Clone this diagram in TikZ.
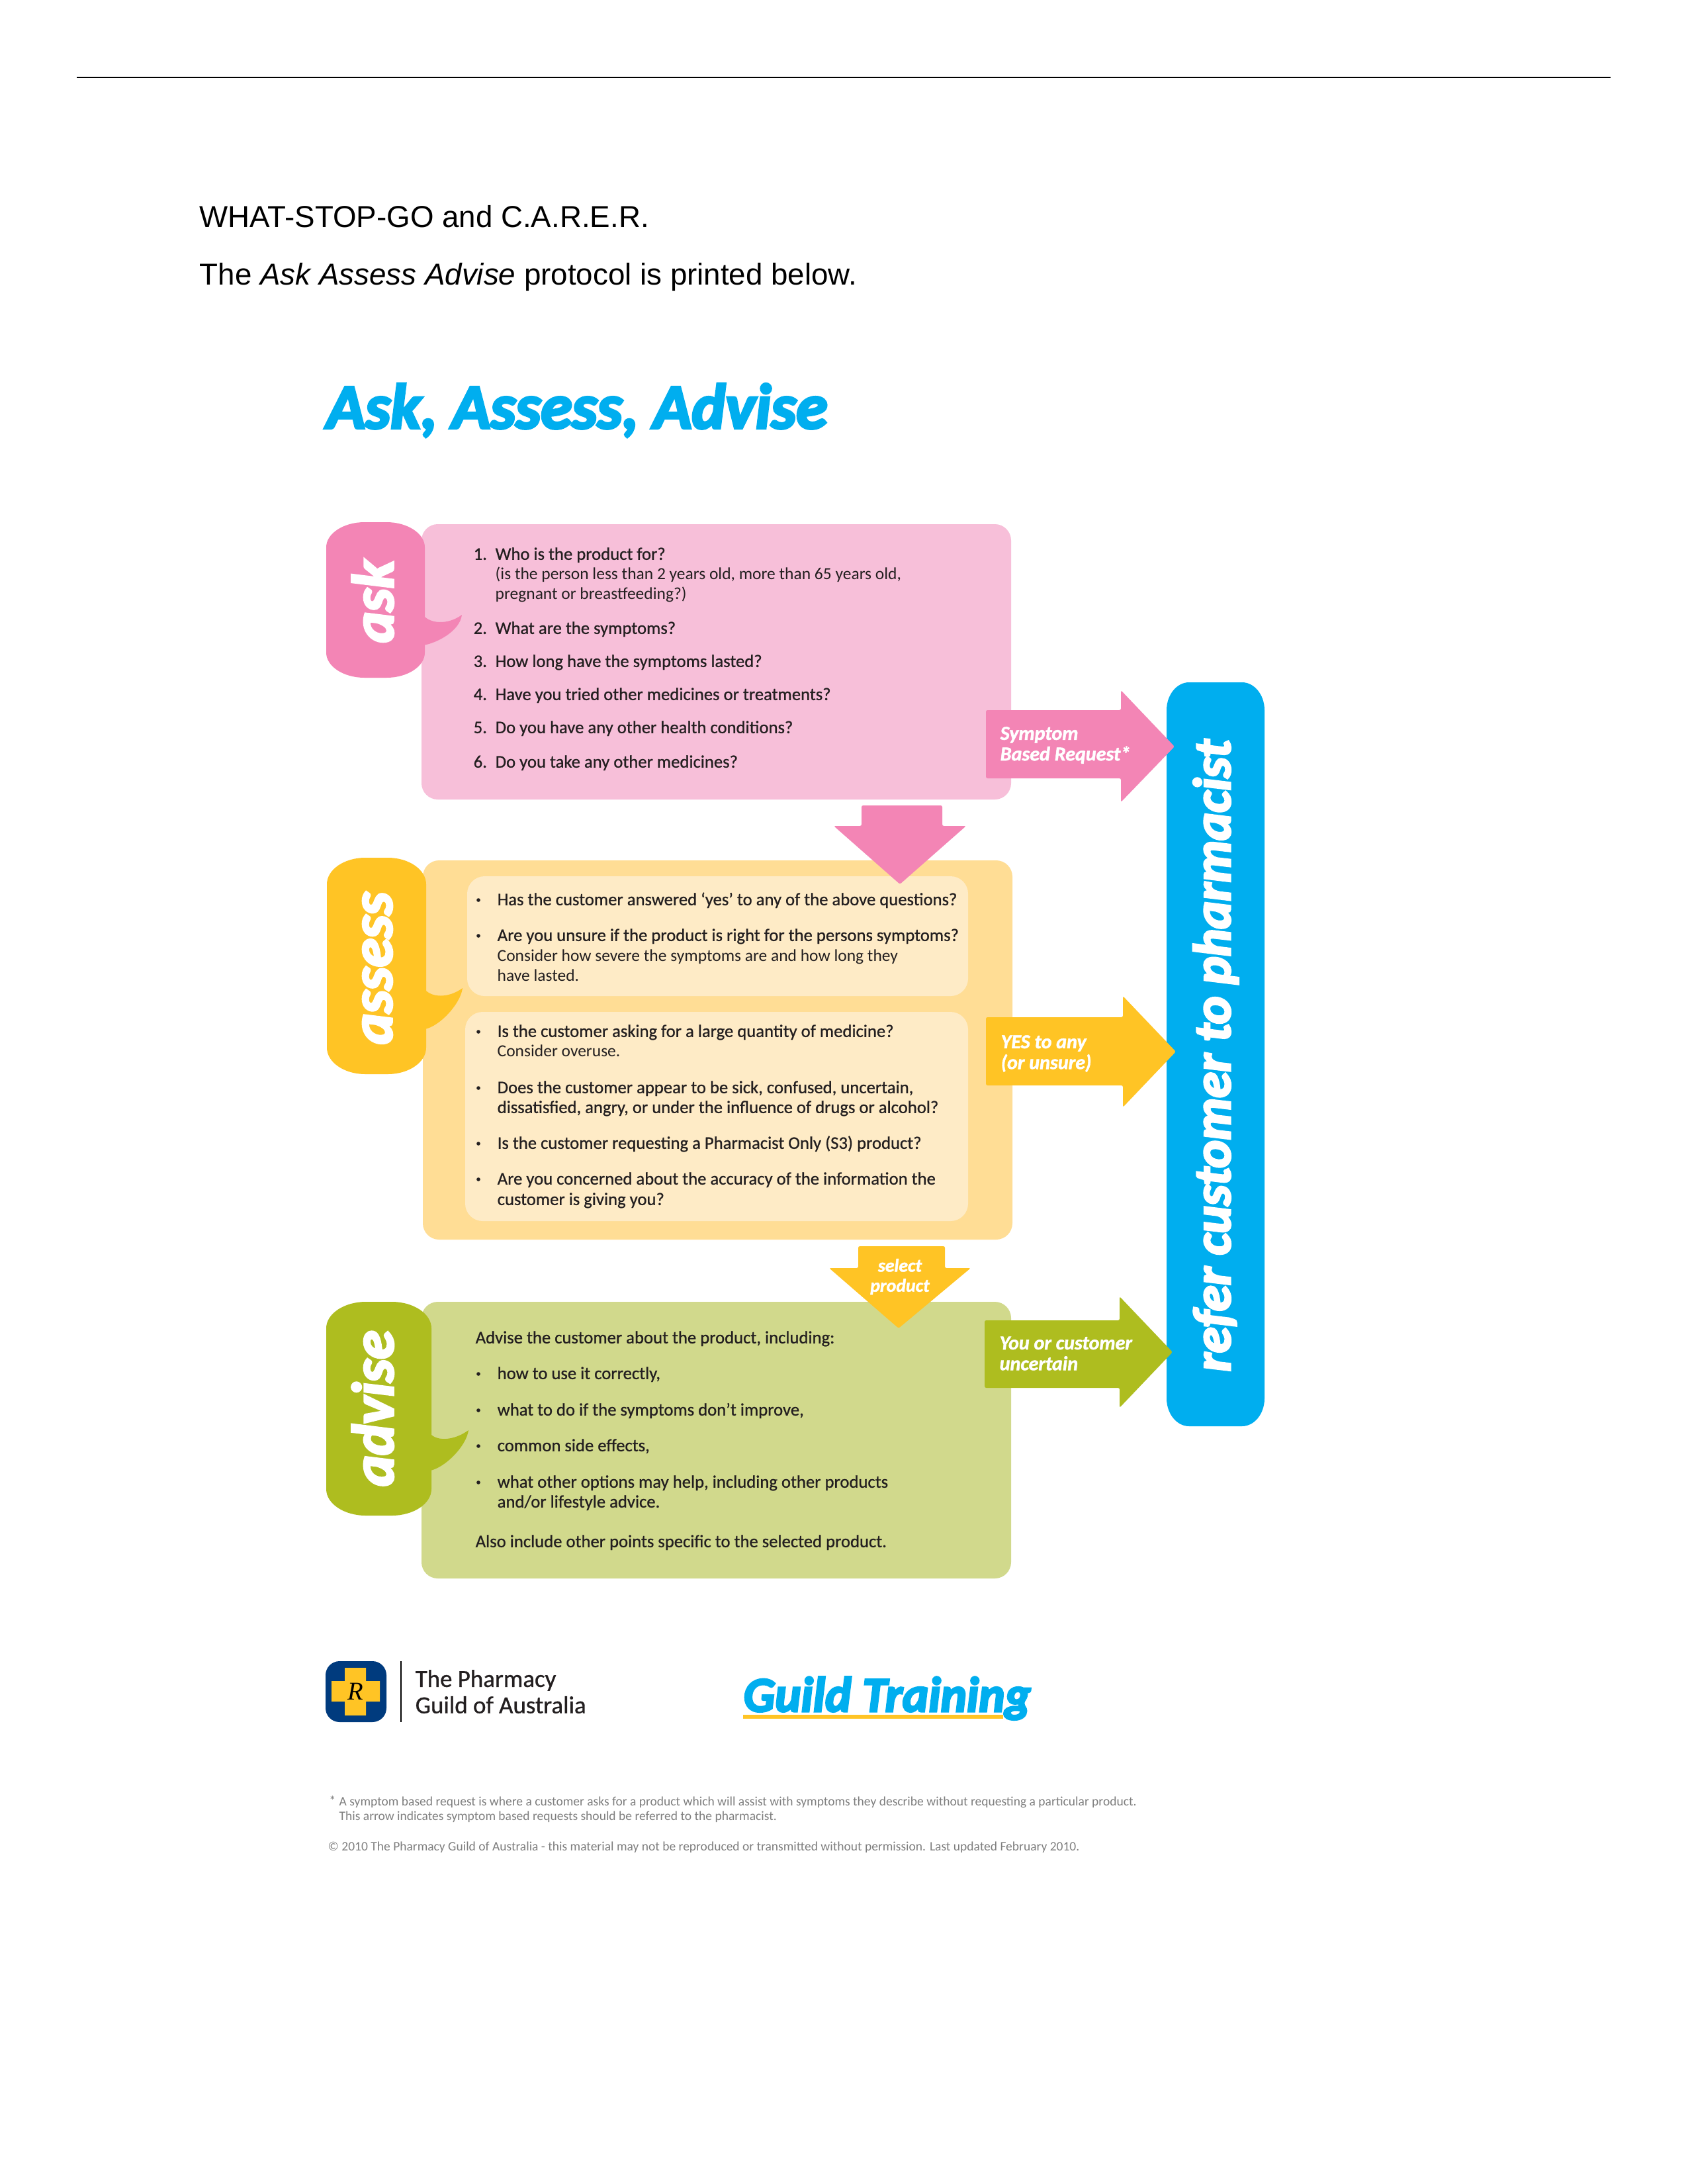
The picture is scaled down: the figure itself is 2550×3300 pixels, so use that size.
\documentclass[tikz,border=0pt]{standalone}
\usepackage{fontspec}
\setmainfont{Liberation Sans}
\newfontfamily\semif[FakeBold=0.8]{Carlito}
\newfontfamily\plainf{Carlito}
\newfontfamily\heavyf[BoldItalicFeatures={FakeBold=1.6}]{Carlito}
\newfontfamily\blackf[BoldItalicFeatures={FakeBold=4}]{Carlito}
\newfontfamily\romanf{Liberation Serif}
\definecolor{pinkD}{HTML}{F385B5}
\definecolor{pinkL}{HTML}{F7BFD9}
\definecolor{amberD}{HTML}{FFC425}
\definecolor{amberL}{HTML}{FFDD95}
\definecolor{amberP}{HTML}{FEEBC6}
\definecolor{greenD}{HTML}{AEBD1F}
\definecolor{greenL}{HTML}{D1D98C}
\definecolor{skyB}{HTML}{00AEEF}
\definecolor{navyB}{HTML}{003B7E}
\definecolor{noteG}{HTML}{7F7F7F}
\definecolor{inkT}{HTML}{231F20}
% rounded block with elliptical corners: x0,y0,x1,y1,rx,ry
\newcommand{\blobpath}[6]{(#1+#5,#2)
  -- (#3-#5,#2) .. controls (#3-0.45*#5,#2) and (#3,#2+0.45*#6) .. (#3,#2+#6)
  -- (#3,#4-#6) .. controls (#3,#4-0.45*#6) and (#3-0.45*#5,#4) .. (#3-#5,#4)
  -- (#1+#5,#4) .. controls (#1+0.45*#5,#4) and (#1,#4-0.45*#6) .. (#1,#4-#6)
  -- (#1,#2+#6) .. controls (#1,#2+0.45*#6) and (#1+0.45*#5,#2) .. (#1+#5,#2) -- cycle}
% speech tail: start x, top y, tip x, tip y, bottom y
\newcommand{\tailpath}[5]{(#1,#2) .. controls (#1+10,#2+12) and (#3-22,#4+16) .. (#3,#4)
  .. controls (#3-3,#4+24) and (#1+22,#5-4) .. (#1,#5) -- cycle}
\tikzset{
  panel/.style={rounded corners=7pt},
  inset/.style={rounded corners=7.5pt},
  pointer/.style={rounded corners=0.7pt},
  strong/.style={anchor=west,inner sep=0pt,text height=6.6pt,text depth=1.6pt,text=inkT,font=\semif\fontsize{7.58pt}{9pt}\selectfont},
  light/.style={strong,font=\plainf\fontsize{7.25pt}{9pt}\selectfont},
  dot/.style={circle,fill=inkT,inner sep=0pt,minimum size=1.6pt},
  tag/.style={anchor=west,inner sep=0pt,text=white,align=left,font=\heavyf\bfseries\itshape\fontsize{8.55pt}{8.9pt}\selectfont},
  stage/.style={rotate=90,anchor=base,inner sep=0pt,text=white,font=\blackf\bfseries\itshape\fontsize{25.2pt}{30pt}\selectfont},
  note/.style={anchor=west,inner sep=0pt,text=noteG,font=\plainf\fontsize{5.55pt}{7pt}\selectfont},
  intro/.style={anchor=west,inner sep=0pt,text=black,font=\fontsize{13pt}{16pt}\selectfont},
}
\begin{document}
\begin{tikzpicture}[x=0.01cm,y=-0.01cm]
\useasboundingbox[fill=white] (0,0) rectangle (2550,3300);

% page header
\draw[line width=0.85pt,black] (116,117) -- (2434,117);
\node[intro] (introa) at (301,327) {WHAT-STOP-GO and C.A.R.E.R.};
\node[intro] (introb) at (301,419) {The \textit{Ask Assess Advise} protocol is printed below.};
\node[anchor=west,inner sep=0pt,text=skyB,font=\blackf\bfseries\itshape\fontsize{27.4pt}{32pt}\selectfont] (title) at (493,620) {Ask, Assess, Advise};

% panels
\fill[pinkL,panel] (637,792) rectangle (1528,1208);
\fill[amberL,panel] (639,1300) rectangle (1530,1873);
\fill[amberP,inset] (706,1324) rectangle (1463,1505);
\fill[amberP,inset] (703,1529) rectangle (1463,1845);
\fill[greenL,panel] (637,1967) rectangle (1528,2385);

% stage labels with their speech tails
\fill[pinkD] \blobpath{493}{789}{642}{1024}{58}{38};
\fill[pinkD] \tailpath{640}{930}{698}{929}{975};
\fill[amberD] \blobpath{494}{1296}{644}{1623}{58}{40};
\fill[amberD] \tailpath{642}{1495}{699}{1493}{1555};
\fill[greenD] \blobpath{493}{1967}{652}{2290}{60}{40};
\fill[greenD] \tailpath{650}{2166}{708}{2161}{2222};
\node[stage] (ask) at (594,909) {ask};
\node[stage] (assess) at (592,1463) {assess};
\node[stage] (advise) at (594,2128) {advise};

% downward arrows between the stages
\fill[pinkD,pointer] (1302,1217) -- (1424,1217) -- (1424,1248) -- (1460,1248) -- (1360,1336) -- (1260,1248) -- (1302,1248) -- cycle;
\fill[amberD,pointer] (1297,1883) -- (1428,1883) -- (1428,1916) -- (1467,1916) -- (1358,2007) -- (1253,1916) -- (1297,1916) -- cycle;
\node[anchor=center,inner sep=0pt,text=white,align=center,font=\heavyf\bfseries\itshape\fontsize{7.9pt}{8.6pt}\selectfont] (select) at (1360,1929) {select\\product};

% ask questions
\node[strong] (n1) at (715,837) {1.};
\node[strong] (q1) at (748,837) {Who is the product for?};
\node[light] (q1a) at (748,867) {(is the person less than 2 years old, more than 65 years old,};
\node[light] (q1b) at (748,897) {pregnant or breastfeeding?)};
\node[strong] (n2) at (715,949) {2.};
\node[strong] (q2) at (748,949) {What are the symptoms?};
\node[strong] (n3) at (715,999) {3.};
\node[strong] (q3) at (748,999) {How long have the symptoms lasted?};
\node[strong] (n4) at (715,1049) {4.};
\node[strong] (q4) at (748,1049) {Have you tried other medicines or treatments?};
\node[strong] (n5) at (715,1099) {5.};
\node[strong] (q5) at (748,1099) {Do you have any other health conditions?};
\node[strong] (n6) at (715,1151) {6.};
\node[strong] (q6) at (748,1151) {Do you take any other medicines?};

% assess checks
\node[dot] (d1) at (723,1360) {};
\node[strong] (a1) at (751,1359) {Has the customer answered ‘yes’ to any of the above questions?};
\node[dot] (d2) at (723,1414) {};
\node[strong] (a2) at (751,1413) {Are you unsure if the product is right for the persons symptoms?};
\node[light] (a2a) at (751,1444) {Consider how severe the symptoms are and how long they};
\node[light] (a2b) at (751,1474) {have lasted.};
\node[dot] (d3) at (723,1559) {};
\node[strong] (a3) at (751,1558) {Is the customer asking for a large quantity of medicine?};
\node[light] (a3a) at (751,1588) {Consider overuse.};
\node[dot] (d4) at (723,1644) {};
\node[strong] (a4) at (751,1643) {Does the customer appear to be sick, confused, uncertain,};
\node[strong] (a4a) at (751,1673) {dissatisfied, angry, or under the influence of drugs or alcohol?};
\node[dot] (d5) at (723,1728) {};
\node[strong] (a5) at (751,1727) {Is the customer requesting a Pharmacist Only (S3) product?};
\node[dot] (d6) at (723,1782) {};
\node[strong] (a6) at (751,1781) {Are you concerned about the accuracy of the information the};
\node[strong] (a6a) at (751,1812) {customer is giving you?};

% advice points
\node[strong] (v0) at (718,2021) {Advise the customer about the product, including:};
\node[dot] (d7) at (723,2076) {};
\node[strong] (v1) at (751,2075) {how to use it correctly,};
\node[dot] (d8) at (723,2131) {};
\node[strong] (v2) at (751,2130) {what to do if the symptoms don’t improve,};
\node[dot] (d9) at (723,2185) {};
\node[strong] (v3) at (751,2184) {common side effects,};
\node[dot] (d10) at (723,2240) {};
\node[strong] (v4) at (751,2239) {what other options may help, including other products};
\node[strong] (v4a) at (751,2269) {and/or lifestyle advice.};
\node[strong] (v5) at (718,2329) {Also include other points specific to the selected product.};

% referral bar
\fill[skyB] \blobpath{1763}{1031}{1911}{2155}{34}{42};
\node[rotate=90,anchor=base,inner sep=0pt,text=white,font=\blackf\bfseries\itshape\fontsize{22.6pt}{24pt}\selectfont] (refer) at (1859,1595) {refer customer to pharmacist};

% arrows into the referral bar
\fill[pinkD,pointer] (1490,1073) -- (1694,1073) -- (1694,1043) -- (1775,1128) -- (1694,1212) -- (1694,1176) -- (1490,1176) -- cycle;
\fill[amberD,pointer] (1490,1537) -- (1697,1537) -- (1697,1505) -- (1777,1589) -- (1697,1673) -- (1697,1640) -- (1490,1640) -- cycle;
\fill[greenD,pointer] (1488,1995) -- (1692,1995) -- (1692,1959) -- (1772,2043) -- (1692,2127) -- (1692,2097) -- (1488,2097) -- cycle;
\node[tag] (t1) at (1511,1126) {Symptom\\Based Request*};
\node[tag] (t2) at (1512,1592) {YES to any\\(or unsure)};
\node[tag] (t3) at (1510,2045) {You or customer\\uncertain};

% guild mark and wordmark
\fill[navyB,rounded corners=6pt] (492,2510) rectangle (584,2602);
\fill[amberD] (521,2520) -- (553,2520) -- (553,2540) -- (574,2540) -- (574,2571) -- (553,2571) -- (553,2592) -- (521,2592) -- (521,2571) -- (501,2571) -- (501,2540) -- (521,2540) -- cycle;
\node[inner sep=0pt,text=black,font=\romanf\itshape\fontsize{11pt}{12pt}\selectfont] (rx) at (537,2556) {R};
\draw[line width=0.5pt,black] (606,2510) -- (606,2602);
\node[anchor=west,inner sep=0pt,text=inkT,font=\semif\fontsize{10.5pt}{13pt}\selectfont] (g1) at (627,2539) {The Pharmacy};
\node[anchor=west,inner sep=0pt,text=inkT,font=\semif\fontsize{10.5pt}{13pt}\selectfont] (g2) at (627,2576) {Guild of Australia};
\fill[amberD] (1123,2591) rectangle (1516,2597);
\node[anchor=base west,inner sep=0pt,text=skyB,font=\blackf\bfseries\itshape\fontsize{21.2pt}{24pt}\selectfont] (gt) at (1123,2586) {Guild Training};

% footnotes
\node[note] (s1) at (497,2721) {*};
\node[note] (s2) at (512,2723) {A symptom based request is where a customer asks for a product which will assist with symptoms they describe without requesting a particular product.};
\node[note] (s3) at (512,2745) {This arrow indicates symptom based requests should be referred to the pharmacist.};
\node[note] (s4) at (495,2791) {© 2010 The Pharmacy Guild of Australia - this material may not be reproduced or transmitted without permission. Last updated February 2010.};
\end{tikzpicture}
\end{document}
